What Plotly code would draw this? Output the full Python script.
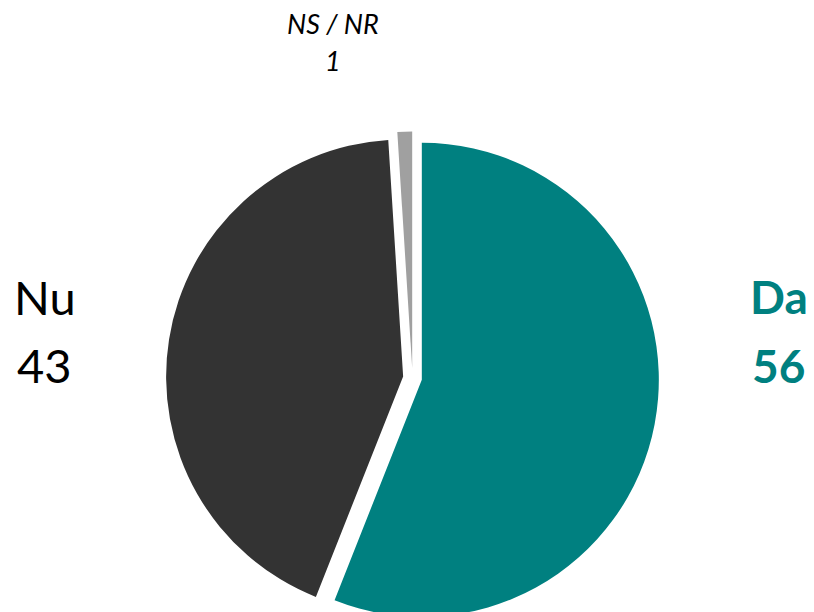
import plotly.graph_objects as go

labels = ["Da", "Nu", "NS / NR"]
values = [56, 43, 1]
colors = ["#008080", "#333333", "#A0A0A0"]

W, H = 814, 625
OFF = 8  # page body margin
cx, cy, half = 412.5 - OFF, 378 - OFF, 246.5

fig = go.Figure(go.Pie(
    labels=labels, values=values, sort=False, direction="clockwise", rotation=0,
    marker=dict(colors=colors, line=dict(color="white", width=0)),
    pull=[0.04, 0.04, 0.04], textinfo="none", hoverinfo="label+value",
    showlegend=False,
    domain=dict(x=[(cx - half) / W, (cx + half) / W],
                y=[1 - (cy + half) / H, 1 - (cy - half) / H]),
))

def yp(py):
    return 1 - (py - OFF) / H

def xp(px):
    return (px - OFF) / W

font = "Lato, 'Open Sans', sans-serif"
ann = [
    dict(text=labels[1], x=xp(45), y=yp(297), font=dict(size=47, color="#000000", family=font)),
    dict(text=str(values[1]), x=xp(44), y=yp(365), font=dict(size=47, color="#000000", family=font)),
    dict(text="<b>" + labels[0] + "</b>", x=xp(779), y=yp(297), font=dict(size=46, color="#008080", family=font)),
    dict(text="<b>" + str(values[0]) + "</b>", x=xp(778), y=yp(365), font=dict(size=46, color="#008080", family=font)),
    dict(text="<i>" + labels[2] + "</i>", x=xp(333), y=yp(23), font=dict(size=27, color="#000000", family=font)),
    dict(text="<i>" + str(values[2]) + "</i>", x=xp(333), y=yp(61), font=dict(size=27, color="#000000", family=font)),
]
for a in ann:
    a.update(xref="paper", yref="paper", showarrow=False, xanchor="center", yanchor="middle")

fig.update_layout(
    width=W, height=H, margin=dict(l=0, r=0, t=0, b=0),
    paper_bgcolor="white", plot_bgcolor="white", annotations=ann,
)
fig.write_html("out.html")
